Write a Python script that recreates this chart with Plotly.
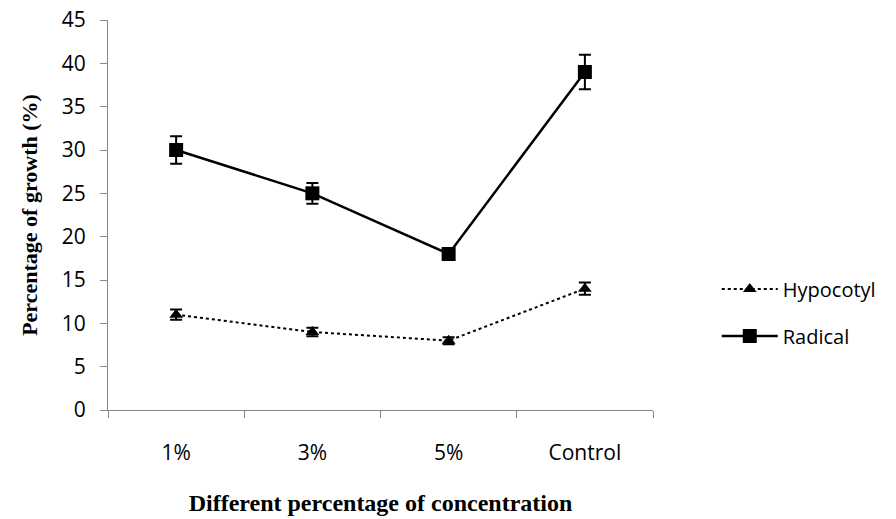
import plotly.graph_objects as go

categories = ["1%", "3%", "5%", "Control"]
hypocotyl = [11, 9, 8, 14]
hypocotyl_err = [0.6, 0.5, 0.4, 0.7]
radical = [30, 25, 18, 39]
radical_err = [1.6, 1.2, 0.7, 2.0]
y_ticks = [0, 5, 10, 15, 20, 25, 30, 35, 40, 45]

fig = go.Figure()
fig.add_trace(go.Scatter(
    x=categories, y=hypocotyl, name="Hypocotyl", mode="lines+markers",
    legendgroup="h",
    line=dict(color="black", width=2, dash="dot"),
    marker=dict(symbol="triangle-up", size=12, color="black"),
    error_y=dict(type="data", array=hypocotyl_err, color="black", thickness=2, width=6),
))
fig.add_trace(go.Scatter(
    x=categories, y=radical, name="Radical", mode="lines+markers",
    legendgroup="r",
    line=dict(color="black", width=2.5),
    marker=dict(symbol="square", size=14, color="black"),
    error_y=dict(type="data", array=radical_err, color="black", thickness=2, width=6),
))

fig.update_layout(
    width=896, height=519,
    margin=dict(l=108, r=243, t=20, b=109, autoexpand=False),
    plot_bgcolor="white", paper_bgcolor="white",
    font=dict(family="Open Sans, sans-serif", size=21, color="black"),
    legend=dict(x=1.117, y=0.36, xanchor="left", yanchor="top",
                font=dict(size=20), tracegroupgap=18, itemwidth=56),
    showlegend=True,
)
fig.update_xaxes(
    type="category", range=[-0.5, 3.5], tickson="boundaries",
    showline=True, linecolor="#888888", linewidth=1,
    ticks="outside", ticklen=7, tickcolor="#888888",
    showgrid=False, zeroline=False, automargin=False,
    tickfont=dict(size=21), ticklabelstandoff=24,
    title=dict(text="<b>Different percentage of concentration</b>",
               font=dict(family="Liberation Serif, Times New Roman, serif", size=24),
               standoff=28),
)
fig.update_yaxes(
    range=[0, 45], tickvals=y_ticks,
    showline=True, linecolor="#888888", linewidth=1,
    ticks="outside", ticklen=7, tickcolor="#888888",
    showgrid=False, zeroline=False, automargin=False,
    tickfont=dict(size=21), ticklabelstandoff=10,
    title=dict(text="<b>Percentage of growth (%)</b>",
               font=dict(family="Liberation Serif, Times New Roman, serif", size=22),
               standoff=18),
)

fig.write_html("out.html", config={"displayModeBar": False},
               post_script="document.body.style.margin='0';")
